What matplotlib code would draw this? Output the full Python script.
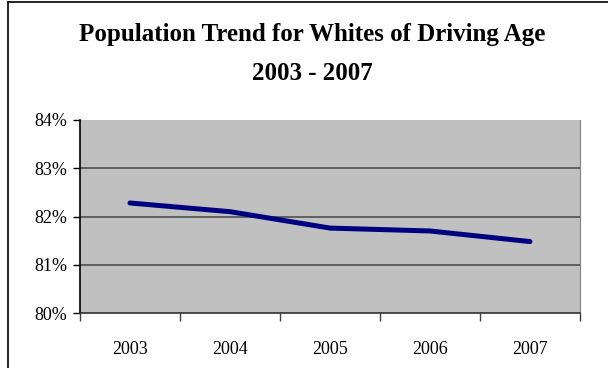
import matplotlib
matplotlib.use('Agg')
import matplotlib.pyplot as plt
from matplotlib.lines import Line2D

years = ['2003', '2004', '2005', '2006', '2007']
share = [82.28, 82.10, 81.76, 81.70, 81.48]
y_ticks = [80, 81, 82, 83, 84]

plt.rcParams.update({
    'font.family': 'Liberation Serif',
    'font.size': 13,
})

fig = plt.figure(figsize=(6.08, 3.68), dpi=100)
fig.patch.set_facecolor('white')

# outer chart border: left and top edges only
fig.add_artist(Line2D([8 / 608, 8 / 608], [0, 1 - 2 / 368], color='black', lw=1.2))
fig.add_artist(Line2D([8 / 608, 1], [1 - 2 / 368, 1 - 2 / 368], color='black', lw=1.2))

ax = fig.add_axes([80 / 608, 1 - 313 / 368, 500 / 608, 193 / 368])
ax.set_facecolor('#c0c0c0')

x = range(len(years))
ax.plot(x, share, color='#000080', lw=3.6, solid_capstyle='round', zorder=3)

ax.set_xlim(-0.5, len(years) - 0.5)
ax.set_ylim(80, 84)
ax.set_yticks(y_ticks)
ax.set_yticklabels([f'{v}%' for v in y_ticks])
for v in y_ticks[1:-1]:
    ax.axhline(v, color='#505050', lw=1.2, zorder=1)

ax.set_xticks([i - 0.5 for i in range(len(years) + 1)])
ax.set_xticklabels([])
ax.set_xticks(list(x), minor=True)
ax.set_xticklabels(years, minor=True)
ax.tick_params(axis='x', which='minor', length=0, pad=20)
ax.tick_params(axis='x', which='major', length=6, width=1, color='#404040')
ax.tick_params(axis='y', length=5, width=1, pad=4)

ax.spines['top'].set_visible(False)
ax.spines['right'].set_color('#808080')
ax.spines['left'].set_color('black')
ax.spines['bottom'].set_color('#303030')
for s in ('left', 'bottom'):
    ax.spines[s].set_linewidth(1.2)

fig.text(312 / 608, 1 - 35 / 368, 'Population Trend for Whites of Driving Age',
         ha='center', va='center', fontsize=18, fontweight='bold')
fig.text(312 / 608, 1 - 74 / 368, '2003 - 2007',
         ha='center', va='center', fontsize=18, fontweight='bold')

fig.savefig('out.png', dpi=100)
